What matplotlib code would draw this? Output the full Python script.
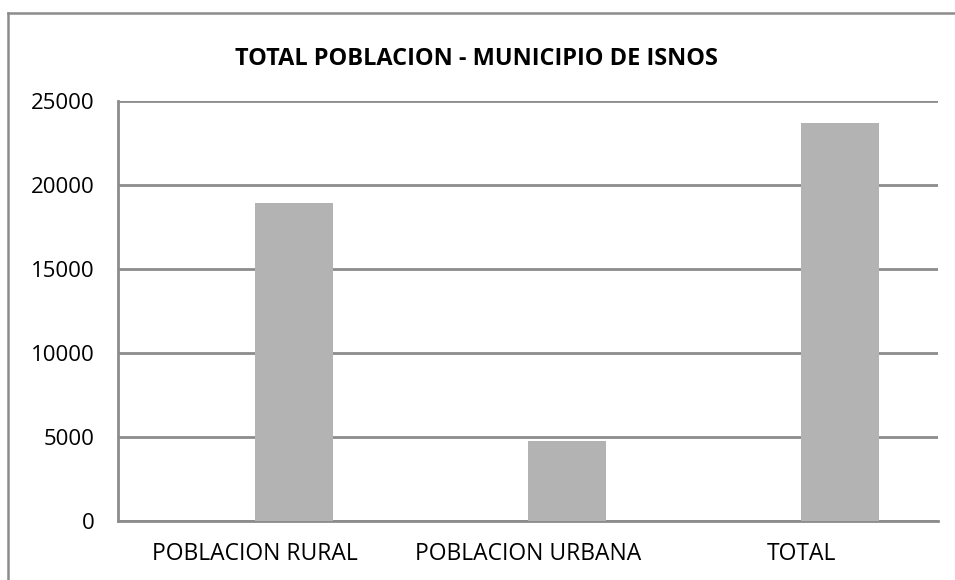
import matplotlib.pyplot as plt
from matplotlib.lines import Line2D
import numpy as np

categories = ["POBLACION RURAL", "POBLACION URBANA", "TOTAL"]
poblacion = [18930, 4760, 23690]
yticks = [0, 5000, 10000, 15000, 20000, 25000]

plt.rcParams['font.family'] = ['Open Sans', 'DejaVu Sans']

fig = plt.figure(figsize=(9.55, 5.8), dpi=100)
ax = fig.add_axes([118/955, 1-521/580, 820/955, 420/580])

x = np.arange(len(categories))
w = 1/3.5
ax.bar(x, poblacion, width=w, align='edge', color='#b3b3b3', zorder=3)

ax.set_xlim(-0.5, 2.5)
ax.set_ylim(0, 25000)
ax.set_yticks(yticks)
ax.set_yticklabels([str(t) for t in yticks])
ax.set_xticks(x)
ax.set_xticklabels(categories)
ax.yaxis.grid(True, color='#8c8c8c', lw=2, zorder=0)
ax.tick_params(axis='both', length=0, colors='black')
ax.tick_params(axis='y', pad=17, labelsize=16)
ax.tick_params(axis='x', pad=15, labelsize=16.5)
for s in ['top', 'right']:
    ax.spines[s].set_visible(False)
for s in ['left', 'bottom']:
    ax.spines[s].set_color('#8c8c8c')
    ax.spines[s].set_linewidth(2)

fig.text(476/955, 1-59/580, "TOTAL POBLACION - MUNICIPIO DE ISNOS",
         ha='center', va='center', fontsize=16.9, fontweight='bold')

# chart border: only left and top edges are inside the picture
fig.add_artist(Line2D([8/955, 8/955], [0, 1-12.5/580], transform=fig.transFigure,
                      color='#8c8c8c', lw=1.8))
fig.add_artist(Line2D([8/955, 1.01], [1-12.5/580, 1-12.5/580], transform=fig.transFigure,
                      color='#8c8c8c', lw=1.8))

fig.savefig("out.png", dpi=100)
